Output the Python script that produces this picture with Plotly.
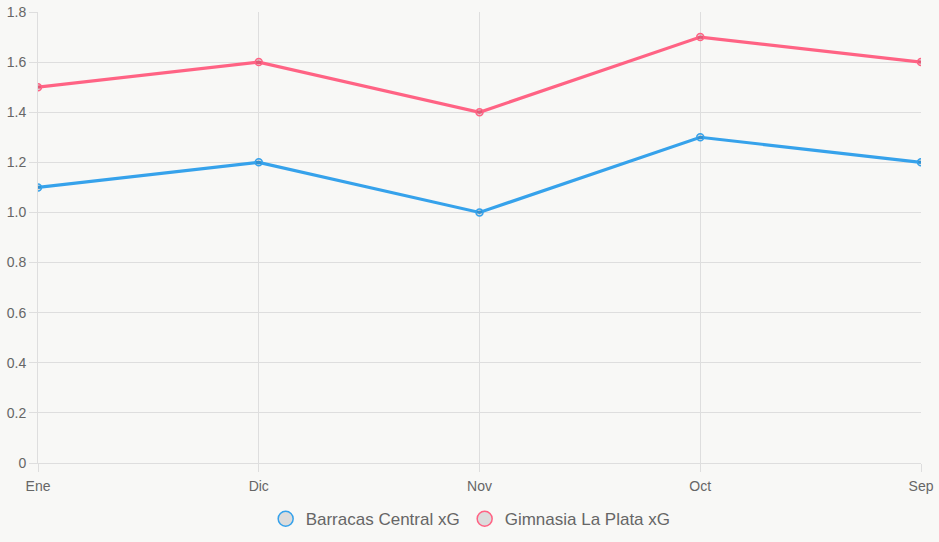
import plotly.graph_objects as go

categories = ["Ene", "Dic", "Nov", "Oct", "Sep"]
barracas = [1.1, 1.2, 1.0, 1.3, 1.2]
gimnasia = [1.5, 1.6, 1.4, 1.7, 1.6]
ytick_vals = [0, 0.2, 0.4, 0.6, 0.8, 1.0, 1.2, 1.4, 1.6, 1.8]
ytick_text = ["0", "0.2", "0.4", "0.6", "0.8", "1.0", "1.2", "1.4", "1.6", "1.8"]

blue = "#36a2eb"
pink = "#ff6384"
grid = "#dedede"
font = "Liberation Sans, Arial, sans-serif"

fig = go.Figure()
for name, vals, col in [("Barracas Central xG", barracas, blue), ("Gimnasia La Plata xG", gimnasia, pink)]:
    fig.add_trace(go.Scatter(
        x=categories, y=vals, mode="lines+markers", name=name, showlegend=False,
        line=dict(color=col, width=3.2),
        marker=dict(size=7, color="rgba(0,0,0,0.1)", line=dict(color=col, width=1.5)),
    ))
for name, col in [("Barracas Central xG", blue), ("Gimnasia La Plata xG", pink)]:
    fig.add_trace(go.Scatter(
        x=[None], y=[None], mode="markers", name=name,
        marker=dict(size=15, color="#dcdcdc", line=dict(color=col, width=1.5)),
    ))

fig.update_layout(
    width=939, height=542,
    margin=dict(l=38, r=18, t=12, b=79),
    paper_bgcolor="#f8f8f6", plot_bgcolor="#f8f8f6",
    font=dict(family=font, color="#666", size=14),
    legend=dict(orientation="h", x=0.49, xanchor="center", yref="container", y=0.042, yanchor="middle",
                font=dict(size=17, color="#666"), itemwidth=30, traceorder="normal"),
    xaxis=dict(type="category", range=[0, 4], showgrid=True, gridcolor=grid, gridwidth=1,
               ticks="outside", ticklen=8, tickcolor=grid, showline=True, linecolor=grid,
               zeroline=False, fixedrange=True, automargin=False, ticklabelstandoff=2),
    yaxis=dict(range=[0, 1.8], tickvals=ytick_vals, ticktext=ytick_text, showgrid=True,
               gridcolor=grid, gridwidth=1, ticks="outside", ticklen=8, tickcolor=grid,
               showline=True, linecolor=grid, zeroline=False, automargin=False),
)
fig.write_html("out.html")
